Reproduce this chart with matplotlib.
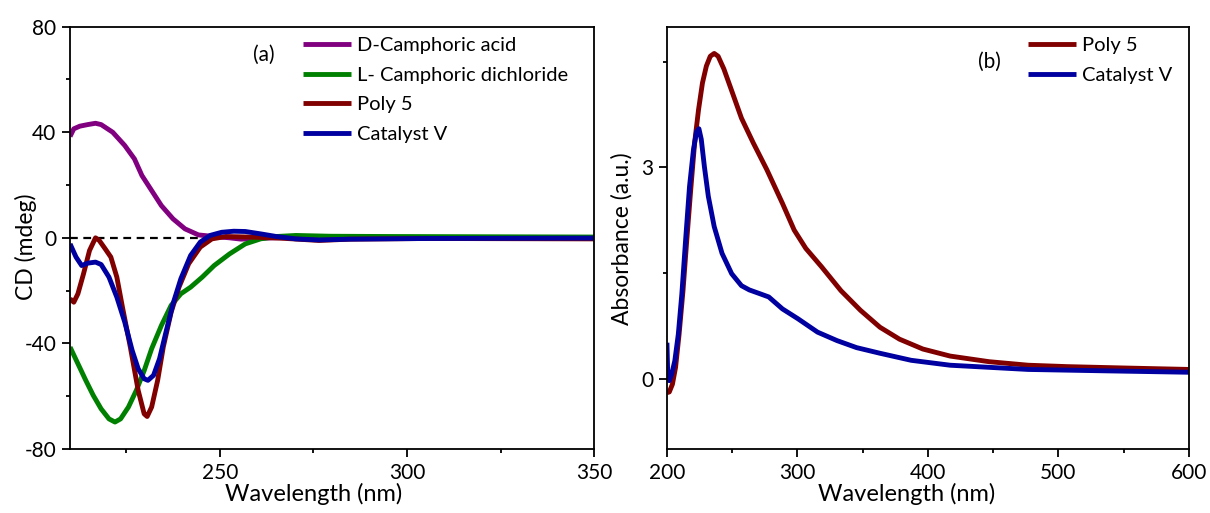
import matplotlib
matplotlib.use("Agg")
import matplotlib.pyplot as plt
from matplotlib.ticker import MultipleLocator

plt.rcParams['font.family'] = ['Lato', 'DejaVu Sans']
plt.rcParams['axes.unicode_minus'] = False

# CD spectra (mdeg) vs wavelength (nm)
cd_acid_nm = [210, 211.0, 212.6, 214.7, 216.8, 218.3, 221.4, 224.6, 227.2, 229.2, 231.8, 234.4, 237.5,
              240.7, 244.3, 248.5, 252.6, 255.7, 259.9, 264.1, 280, 300, 320, 350]
cd_acid = [38.4, 41.3, 42.3, 42.9, 43.4, 42.9, 40.0, 35.0, 29.9, 23.6, 17.9, 12.2, 7.2,
           3.4, 1.1, 0.5, 0.0, -0.5, -0.25, 0.0, 0.1, 0.0, 0.0, 0.0]

cd_chloride_nm = [210, 212.1, 214.2, 216.2, 218.3, 220.4, 222.0, 223.5, 225.6, 227.7, 229.8, 231.8, 234.4,
                  237.0, 239.6, 242.2, 245.3, 248.5, 252.6, 256.8, 260.9, 265.1, 270.3, 279.6, 295.2, 350]
cd_chloride = [-41.4, -47.7, -54.0, -59.7, -64.8, -68.6, -69.8, -68.6, -64.1, -57.8, -50.3, -42.0, -33.2,
               -25.6, -21.2, -18.7, -14.9, -10.5, -6.1, -2.3, -0.4, 0.5, 0.9, 0.6, 0.5, 0.3]

cd_poly_nm = [210, 211.0, 212.1, 213.6, 215.2, 216.8, 217.8, 219.4, 220.9, 222.5, 224.0, 226.1, 228.2,
              229.8, 230.6, 231.8, 233.4, 234.9, 237.0, 239.1, 241.7, 244.8, 247.9, 251.6, 257.8,
              266.1, 276.5, 284.8, 305.6, 350]
cd_poly = [-23.1, -24.4, -21.2, -13.6, -4.8, 0.0, -1.0, -4.2, -7.3, -14.9, -26.3, -41.4, -57.8,
           -66.7, -67.7, -64.1, -54.0, -41.4, -28.2, -18.7, -9.8, -3.5, -0.4, 0.5, 0.3,
           -0.1, -1.0, -0.5, -0.25, -0.4]

cd_cat_nm = [210, 211.6, 213.1, 214.7, 216.8, 218.3, 220.4, 222.5, 224.6, 226.6, 228.2, 229.8, 230.8,
             232.3, 233.9, 235.5, 237.5, 239.6, 242.2, 244.8, 247.4, 250.5, 253.7, 256.8, 260.9,
             265.1, 270.3, 276.5, 284.8, 305.6, 350]
cd_cat = [-2.3, -7.3, -10.5, -9.6, -9.2, -10.1, -14.9, -22.5, -31.9, -42.7, -49.6, -53.4, -54.0,
          -52.1, -45.8, -36.4, -25.0, -15.5, -6.7, -1.6, 0.9, 2.1, 2.5, 2.4, 1.5,
          0.5, -0.4, -0.8, -0.5, -0.25, -0.1]

# UV-vis absorbance (a.u.) vs wavelength (nm)
uv_poly_nm = [200, 201.8, 204.2, 206.6, 209.3, 212.3, 215.2, 218.2, 221.2, 224.2, 227.2, 230.2, 233.2,
              236.2, 239.2, 243.6, 249.6, 257.1, 266.1, 276.5, 288.5, 297.5, 306.4, 318.4, 333.3,
              348.3, 363.2, 378.2, 396.1, 417.0, 446.9, 476.8, 506.7, 551.6, 600]
uv_poly = [-0.2, -0.19, -0.08, 0.16, 0.63, 1.25, 1.97, 2.68, 3.35, 3.82, 4.2, 4.44, 4.58,
           4.62, 4.58, 4.4, 4.09, 3.7, 3.35, 2.97, 2.49, 2.11, 1.85, 1.59, 1.25,
           0.97, 0.73, 0.56, 0.42, 0.32, 0.24, 0.19, 0.17, 0.15, 0.13]

uv_cat_nm = [200, 200.6, 201.8, 203.6, 206.0, 208.7, 211.4, 214.3, 217.3, 220.3, 222.7, 224.5, 226.3,
             228.7, 231.7, 236.2, 242.2, 249.6, 257.1, 263.1, 270.6, 278.0, 288.5, 300.4, 315.4,
             330.3, 345.3, 363.2, 387.1, 417.0, 446.9, 476.8, 536.6, 600]
uv_cat = [0.51, 0.06, -0.03, 0.06, 0.25, 0.63, 1.2, 1.97, 2.73, 3.25, 3.51, 3.55, 3.4,
          3.01, 2.59, 2.16, 1.78, 1.49, 1.32, 1.26, 1.21, 1.16, 0.99, 0.85, 0.66,
          0.54, 0.44, 0.36, 0.26, 0.19, 0.16, 0.13, 0.11, 0.09]

c_purple = '#800080'
c_green = '#008000'
c_red = '#800000'
c_blue = '#0000a0'

fig = plt.figure(figsize=(12.1, 5.13), dpi=100)
ax1 = fig.add_axes([0.0579, 0.1248, 0.4331, 0.8232])
ax2 = fig.add_axes([0.5512, 0.1248, 0.4314, 0.8232])

lw = 3.5
style = dict(lw=lw, solid_joinstyle='round', solid_capstyle='butt')
leg_kw = dict(loc='upper left', frameon=False, fontsize=14.5, handlelength=2.4,
              handletextpad=0.3, labelspacing=0.62, borderaxespad=0, borderpad=0)

ax1.axhline(0, color='black', ls=(0, (3.5, 2.5)), lw=1.6, zorder=1)
ax1.plot(cd_acid_nm, cd_acid, color=c_purple, label='D-Camphoric acid', **style)
ax1.plot(cd_chloride_nm, cd_chloride, color=c_green, label='L- Camphoric dichloride', **style)
ax1.plot(cd_poly_nm, cd_poly, color=c_red, label='Poly 5', **style)
ax1.plot(cd_cat_nm, cd_cat, color=c_blue, label='Catalyst V', **style)
ax1.set_xlim(210, 350)
ax1.set_ylim(-80, 80)
ax1.xaxis.set_major_locator(MultipleLocator(50))
ax1.xaxis.set_minor_locator(MultipleLocator(25))
ax1.yaxis.set_major_locator(MultipleLocator(40))
ax1.yaxis.set_minor_locator(MultipleLocator(20))
ax1.set_xlabel('Wavelength (nm)', fontsize=17, labelpad=0, x=0.464)
ax1.set_ylabel('CD (mdeg)', fontsize=16.5)
ax1.yaxis.set_label_coords(-0.063, 0.48)
ax1.text(0.370, 0.934, '(a)', transform=ax1.transAxes, fontsize=15, ha='center', va='center')
ax1.legend(bbox_to_anchor=(0.4447, 0.975), **leg_kw)

ax2.plot(uv_poly_nm, uv_poly, color=c_red, label='Poly 5', **style)
ax2.plot(uv_cat_nm, uv_cat, color=c_blue, label='Catalyst V', **style)
ax2.set_xlim(200, 600)
ax2.set_ylim(-1, 5)
ax2.xaxis.set_major_locator(MultipleLocator(100))
ax2.xaxis.set_minor_locator(MultipleLocator(50))
ax2.yaxis.set_major_locator(MultipleLocator(3))
ax2.yaxis.set_minor_locator(MultipleLocator(1.5))
ax2.set_xlabel('Wavelength (nm)', fontsize=17, labelpad=0, x=0.4585)
ax2.set_ylabel('Absorbance (a.u.)', fontsize=16.5)
ax2.yaxis.set_label_coords(-0.065, 0.499)
ax2.text(0.617, 0.917, '(b)', transform=ax2.transAxes, fontsize=15, ha='center', va='center')
ax2.legend(bbox_to_anchor=(0.6916, 0.975), **leg_kw)

for ax in (ax1, ax2):
    for s in ax.spines.values():
        s.set_linewidth(1.3)
    ax.tick_params(which='major', direction='out', length=6, width=1.3, labelsize=15, pad=4)
    ax.tick_params(which='minor', direction='out', length=3, width=1.3)

fig.savefig('out.png', dpi=100)
